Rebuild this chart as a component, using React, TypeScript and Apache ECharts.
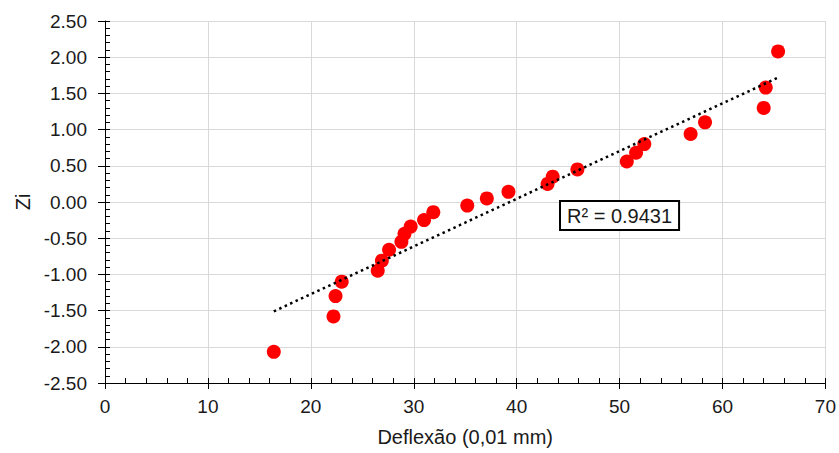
import React, { useEffect, useRef } from "react";
import * as echarts from "echarts";

const deflexao = [16.4, 22.2, 22.4, 23.0, 26.5, 26.9, 27.6, 28.8, 29.1, 29.7, 31.0, 31.9, 35.2, 37.1, 39.2, 43.0, 43.5, 45.9, 50.7, 51.6, 52.4, 56.9, 58.3, 64.0, 64.2, 65.4];
const zi = [-2.07, -1.58, -1.30, -1.10, -0.95, -0.81, -0.66, -0.55, -0.44, -0.34, -0.25, -0.14, -0.05, 0.05, 0.14, 0.25, 0.35, 0.45, 0.56, 0.68, 0.80, 0.94, 1.10, 1.30, 1.58, 2.08];
const r2Label = "R² = 0.9431";
const xTitle = "Deflexão (0,01 mm)";
const yTitle = "Zi";

function regression(xs: number[], ys: number[]) {
  const n = xs.length;
  const mx = xs.reduce((a, b) => a + b, 0) / n;
  const my = ys.reduce((a, b) => a + b, 0) / n;
  let sxy = 0, sxx = 0;
  for (let i = 0; i < n; i++) {
    sxy += (xs[i] - mx) * (ys[i] - my);
    sxx += (xs[i] - mx) * (xs[i] - mx);
  }
  const b = sxy / sxx;
  return { a: my - b * mx, b };
}

const FONT = "'Liberation Sans', Arial, sans-serif";
const TXT = "#1a1a1a";

export default function App() {
  const ref = useRef<HTMLDivElement>(null);
  useEffect(() => {
    if (!ref.current) return;
    const chart = echarts.init(ref.current, undefined, { renderer: "svg" });
    const { a, b } = regression(deflexao, zi);
    const xmin = Math.min(...deflexao);
    const xmax = Math.max(...deflexao);
    const trend = [[xmin, a + b * xmin], [xmax, a + b * xmax]];
    const innerAxis = {
      type: "value",
      axisLine: { show: false, onZero: false },
      axisLabel: { show: false },
      splitLine: { show: false },
      axisTick: { show: true, inside: true, length: 5, lineStyle: { color: "#000" } },
      minorTick: { show: true, splitNumber: 5, length: 5, lineStyle: { color: "#000" } },
    };
    chart.setOption({
      animation: false,
      backgroundColor: "#fff",
      textStyle: { fontFamily: FONT },
      grid: { left: 105, right: 13, top: 21, bottom: 70, containLabel: false },
      xAxis: [
        {
          type: "value",
          min: 0,
          max: 70,
          interval: 10,
          position: "bottom",
          name: xTitle,
          nameLocation: "middle",
          nameGap: 44,
          nameTextStyle: { fontSize: 20, color: TXT, fontFamily: FONT },
          axisLine: { show: true, onZero: false, lineStyle: { color: "#000", width: 1 } },
          axisTick: { show: true, inside: false, length: 6, lineStyle: { color: "#000" } },
          axisLabel: { fontSize: 19, color: TXT, margin: 14, fontFamily: FONT },
          splitLine: { show: true, lineStyle: { color: "#d9d9d9", width: 1 } },
        },
        { ...innerAxis, min: 0, max: 70, interval: 10, position: "bottom" },
      ],
      yAxis: [
        {
          type: "value",
          min: -2.5,
          max: 2.5,
          interval: 0.5,
          position: "left",
          name: yTitle,
          nameLocation: "middle",
          nameRotate: 90,
          nameGap: 72,
          nameTextStyle: { fontSize: 20, color: TXT, fontFamily: FONT },
          axisLine: { show: true, onZero: false, lineStyle: { color: "#000", width: 1 } },
          axisTick: { show: true, inside: false, length: 7, lineStyle: { color: "#000" } },
          axisLabel: {
            fontSize: 19,
            color: TXT,
            margin: 18,
            fontFamily: FONT,
            formatter: (v: number) => v.toFixed(2),
          },
          splitLine: { show: true, lineStyle: { color: "#d9d9d9", width: 1 } },
        },
        { ...innerAxis, min: -2.5, max: 2.5, interval: 0.5, position: "left" },
      ],
      series: [
        {
          type: "scatter",
          xAxisIndex: 0,
          yAxisIndex: 0,
          data: deflexao.map((x, i) => [x, zi[i]]),
          symbol: "circle",
          symbolSize: 14,
          itemStyle: { color: "#ff0000", opacity: 1 },
          z: 2,
        },
        {
          type: "line",
          xAxisIndex: 0,
          yAxisIndex: 0,
          data: trend,
          showSymbol: false,
          symbol: "none",
          lineStyle: { color: "#000", width: 2.5, type: [2.5, 3.5] },
          z: 3,
          silent: true,
        },
      ],
      graphic: [
        {
          type: "text",
          left: 559,
          top: 200,
          z: 10,
          style: {
            text: r2Label,
            fontSize: 20,
            fontFamily: FONT,
            fill: TXT,
            backgroundColor: "#fff",
            borderColor: "#000",
            borderWidth: 2,
            padding: [4, 6, 3, 6],
          },
        },
      ],
    });
    return () => chart.dispose();
  }, []);
  return (
    <div
      ref={ref}
      style={{ position: "absolute", left: 0, top: 0, width: 839, height: 453 }}
    />
  );
}
